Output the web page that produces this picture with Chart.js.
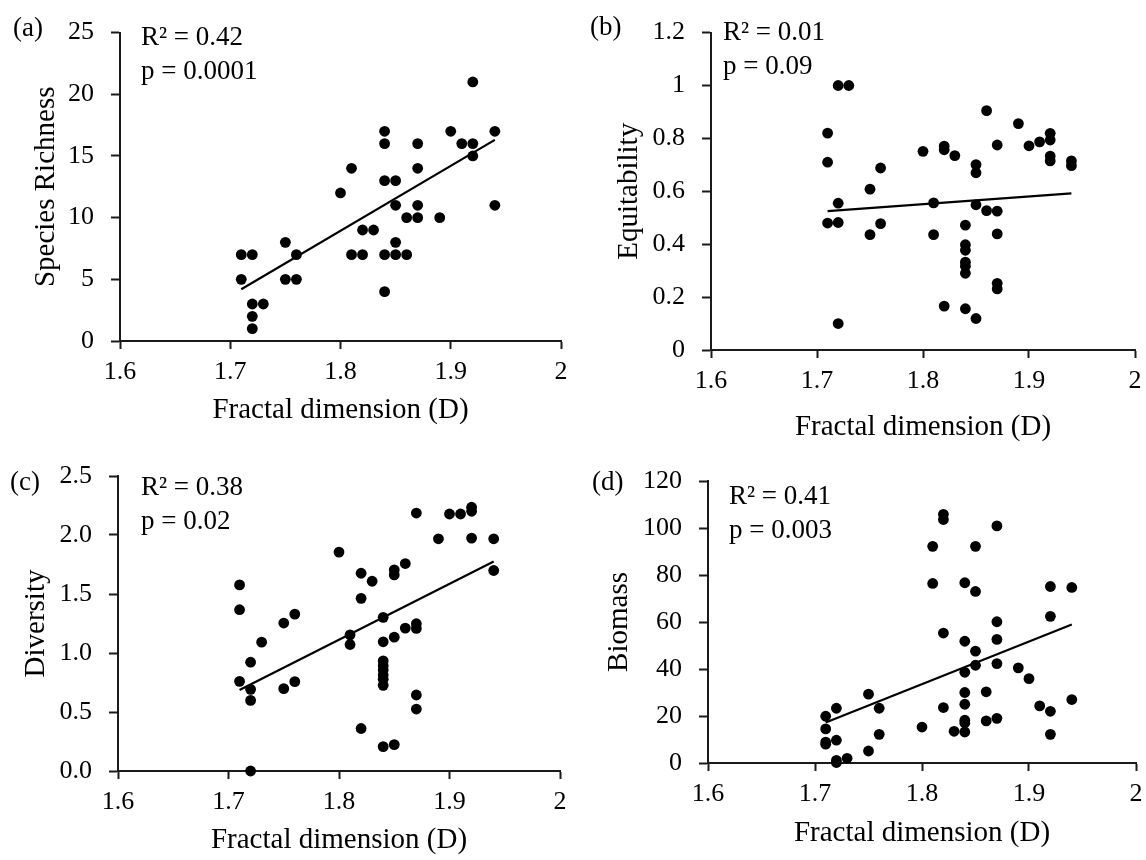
<!DOCTYPE html>
<html>
<head>
<meta charset="utf-8">
<script src="https://cdn.jsdelivr.net/npm/chart.js@4.4.1/dist/chart.umd.min.js"></script>
<style>
    body { margin: 0; background: #fff; }
    #wrap { position: relative; width: 1146px; height: 860px; overflow: hidden; }
    canvas { position: absolute; }
</style>
</head>
<body>
<div id="wrap">
    <canvas id="panelA" width="573" height="430" style="left:0px;top:0px"></canvas>
    <canvas id="panelB" width="573" height="450" style="left:573px;top:0px"></canvas>
    <canvas id="panelC" width="573" height="430" style="left:0px;top:430px"></canvas>
    <canvas id="panelD" width="573" height="430" style="left:573px;top:430px"></canvas>
</div>
<script>
// fractal dimension (x) and response (y)
const xA = [1.71, 1.71, 1.72, 1.72, 1.73, 1.72, 1.72, 1.75, 1.75, 1.76, 1.76, 1.80, 1.81, 1.81, 1.82, 1.82, 1.83,
    1.84, 1.84, 1.84, 1.84, 1.84, 1.85, 1.85, 1.85, 1.85, 1.86, 1.86, 1.87, 1.87, 1.87, 1.87, 1.89, 1.90, 1.91,
    1.92, 1.92, 1.92, 1.94, 1.94];
const richness = [7, 5, 7, 3, 3, 2, 1, 8, 5, 7, 5, 12, 14, 7, 9, 7, 9,
    17, 16, 13, 7, 4, 13, 11, 8, 7, 10, 7, 16, 14, 11, 10, 10, 17, 16,
    21, 16, 15, 17, 11];

const xB = [1.71, 1.71, 1.71, 1.72, 1.73, 1.72, 1.72, 1.72, 1.75, 1.75, 1.76, 1.76, 1.80, 1.82, 1.82, 1.81, 1.81,
    1.83, 1.82, 1.84, 1.84, 1.84, 1.84, 1.84, 1.84, 1.84, 1.85, 1.85, 1.85, 1.85, 1.86, 1.86,
    1.87, 1.87, 1.87, 1.87, 1.87, 1.89, 1.90, 1.91, 1.92, 1.92, 1.92, 1.92, 1.94, 1.94];
const equitability = [0.82, 0.71, 0.48, 1.0, 1.0, 0.555, 0.482, 0.10, 0.608, 0.436, 0.688, 0.478, 0.751, 0.771, 0.757, 0.556, 0.436,
    0.735, 0.166, 0.472, 0.398, 0.377, 0.332, 0.317, 0.29, 0.156, 0.701, 0.670, 0.549, 0.119, 0.905, 0.527,
    0.775, 0.525, 0.439, 0.252, 0.231, 0.856, 0.772, 0.787, 0.819, 0.794, 0.733, 0.715, 0.715, 0.697];

const xC = [1.71, 1.71, 1.71, 1.72, 1.72, 1.72, 1.72, 1.73, 1.75, 1.75, 1.76, 1.76, 1.80, 1.81, 1.81, 1.82, 1.82, 1.82, 1.83,
    1.84, 1.84, 1.84, 1.84, 1.84, 1.84, 1.84, 1.84, 1.84, 1.85, 1.85, 1.85, 1.85, 1.86, 1.86,
    1.87, 1.87, 1.87, 1.87, 1.87, 1.89, 1.90, 1.91, 1.92, 1.92, 1.92, 1.94, 1.94];
const diversity = [1.577, 1.367, 0.760, 0.922, 0.692, 0.598, 0.0, 1.092, 1.254, 0.698, 1.330, 0.757, 1.855, 1.154, 1.072, 1.676, 1.463, 0.360, 1.608,
    1.302, 1.095, 0.933, 0.893, 0.856, 0.814, 0.777, 0.726, 0.207, 1.704, 1.662, 1.134, 0.224, 1.758, 1.211,
    2.186, 1.248, 1.208, 0.644, 0.525, 1.968, 2.178, 2.178, 2.235, 2.201, 1.974, 1.968, 1.699];

const xD = [1.71, 1.71, 1.71, 1.71, 1.72, 1.72, 1.72, 1.72, 1.73, 1.75, 1.75, 1.76, 1.76, 1.80, 1.81, 1.81,
    1.82, 1.82, 1.82, 1.82, 1.83, 1.84, 1.84, 1.84, 1.84, 1.84, 1.84, 1.84, 1.84, 1.85, 1.85, 1.85, 1.85,
    1.86, 1.86, 1.87, 1.87, 1.87, 1.87, 1.87, 1.89, 1.90, 1.91, 1.92, 1.92, 1.92, 1.92, 1.94, 1.94];
const biomass = [19.9, 14.5, 8.9, 8.0, 23.3, 9.7, 1.1, 0.2, 2.0, 29.3, 5.1, 23.3, 12.2, 15.3, 92.2, 76.4,
    105.8, 103.6, 55.3, 23.6, 13.5, 76.7, 51.8, 38.6, 30.0, 25.0, 18.2, 17.0, 13.2, 92.2, 73.0, 47.6, 41.6,
    30.3, 17.9, 100.9, 60.1, 52.6, 42.3, 19.0, 40.5, 35.9, 24.3, 75.1, 62.4, 22.0, 12.2, 74.7, 27.0];

// fitted line end points (at D = 1.71 and 1.94)
const trendX = [1.71, 1.94];
const trendA = [4.2, 16.3];
const trendB = [0.525, 0.592];
const trendC = [0.686, 1.775];
const trendD = [17.2, 58.9];

const xTicks = [1.6, 2, 0.1];
const FONT = 'Liberation Serif';

// trims float noise: 1.6000000001 -> "1.6", 2 -> "2"
const plain = (v) => String(Math.round(v * 100) / 100);

// draws panel letter, stats, and axis titles
const panelText = {
    id: 'panelText',
    afterDraw(chart, args, o) {
        const ctx = chart.ctx;
        const area = chart.chartArea;
        ctx.save();
        ctx.fillStyle = '#000';
        ctx.textBaseline = 'middle';
        ctx.textAlign = 'left';
        ctx.font = '27px "' + FONT + '"';
        ctx.fillText(o.letter, o.letterX, o.letterY);
        ctx.fillText(o.r2, o.statX, o.statY);
        ctx.fillText(o.p, o.statX, o.statY + 34);
        ctx.font = '29px "' + FONT + '"';
        ctx.textAlign = 'center';
        ctx.fillText('Fractal dimension (D)', (area.left + area.right) / 2, o.xTitleY);
        ctx.translate(o.yTitleX, (area.top + area.bottom) / 2);
        ctx.rotate(-Math.PI / 2);
        ctx.fillText(o.yTitle, 0, 0);
        ctx.restore();
    }
};

function toPoints(xs, ys) {
    return xs.map((x, i) => ({x: x, y: ys[i]}));
}

function makePanel(id, xs, ys, trend, yAxis, text, box) {
    const axisColor = '#1a1a1a';
    return new Chart(document.getElementById(id), {
        type: 'scatter',
        data: {
            datasets: [{
                data: toPoints(xs, ys),
                pointRadius: 5.4,
                backgroundColor: '#000',
                borderWidth: 0,
                clip: false
            }, {
                type: 'line',
                data: toPoints(trendX, trend),
                borderColor: '#000',
                borderWidth: 2.2,
                pointRadius: 0,
                fill: false
            }]
        },
        options: {
            responsive: false,
            animation: false,
            layout: {padding: {left: 0, top: box.top, right: box.right, bottom: 0}},
            plugins: {
                legend: {display: false},
                tooltip: {enabled: false},
                panelText: text
            },
            scales: {
                x: {
                    type: 'linear',
                    min: xTicks[0],
                    max: xTicks[1],
                    ticks: {stepSize: xTicks[2], color: '#000', font: {family: FONT, size: 26}, padding: 8,
                        maxRotation: 0, callback: plain},
                    grid: {drawOnChartArea: false, drawTicks: true, tickLength: 8, tickColor: axisColor, tickWidth: 2},
                    border: {color: axisColor, width: 2},
                    afterFit: (s) => { s.height = box.xH; s.paddingRight = 0; s.paddingLeft = 0; }
                },
                y: {
                    type: 'linear',
                    min: yAxis.min,
                    max: yAxis.max,
                    ticks: {
                        stepSize: yAxis.step,
                        color: '#000',
                        font: {family: FONT, size: 26},
                        padding: 17,
                        callback: yAxis.format || plain
                    },
                    grid: {drawOnChartArea: false, drawTicks: true, tickLength: 9, tickColor: axisColor, tickWidth: 2},
                    border: {color: axisColor, width: 2},
                    afterFit: (s) => { s.width = box.yW; }
                }
            }
        },
        plugins: [panelText]
    });
}

makePanel('panelA', xA, richness, trendA,
    {min: 0, max: 25, step: 5},
    {letter: '(a)', letterX: 13, letterY: 29, r2: 'R² = 0.42', p: 'p = 0.0001', statX: 141, statY: 38,
        yTitle: 'Species Richness', yTitleX: 46, xTitleY: 410},
    {top: 27, right: 12, yW: 120, xH: 89});

makePanel('panelB', xB, equitability, trendB,
    {min: 0, max: 1.2, step: 0.2},
    {letter: '(b)', letterX: 17, letterY: 28, r2: 'R² = 0.01', p: 'p = 0.09', statX: 150, statY: 33,
        yTitle: 'Equitability', yTitleX: 56, xTitleY: 427},
    {top: 24, right: 11, yW: 138, xH: 100});

makePanel('panelC', xC, diversity, trendC,
    {min: 0, max: 2.5, step: 0.5, format: (v) => Number(v).toFixed(1)},
    {letter: '(c)', letterX: 10, letterY: 53, r2: 'R² = 0.38', p: 'p = 0.02', statX: 141, statY: 58,
        yTitle: 'Diversity', yTitleX: 36, xTitleY: 410},
    {top: 46, right: 13, yW: 118, xH: 89});

makePanel('panelD', xD, biomass, trendD,
    {min: 0, max: 120, step: 20},
    {letter: '(d)', letterX: 19, letterY: 53, r2: 'R² = 0.41', p: 'p = 0.003', statX: 156, statY: 67,
        yTitle: 'Biomass', yTitleX: 46, xTitleY: 403},
    {top: 51, right: 10, yW: 135, xH: 97});
</script>
</body>
</html>
